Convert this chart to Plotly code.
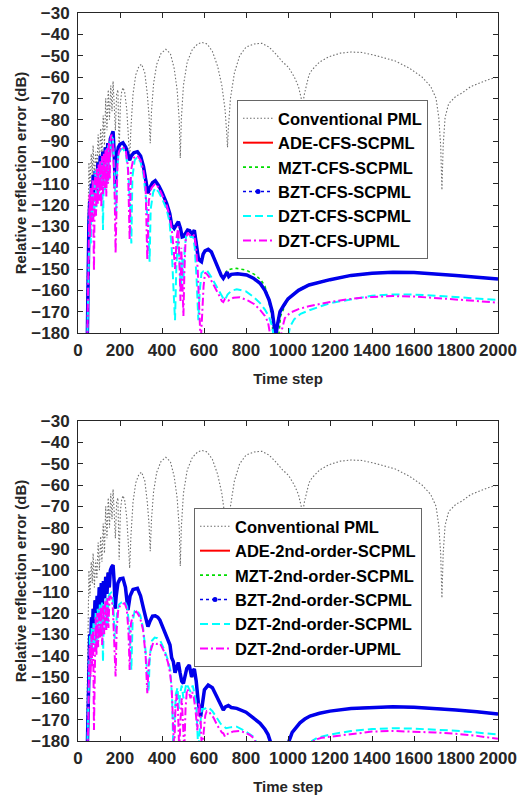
import plotly.graph_objects as go

# ---- data ----
pml_t = [40, 46, 52, 57, 63, 68, 72, 78, 84, 90, 96, 102, 108, 114, 120, 126, 132, 138,
         144, 150, 156, 162, 167, 172, 178, 184, 190, 196, 202, 208, 214, 222, 232, 240,
         246, 252, 262, 275, 290, 303, 318, 330, 338, 344, 350, 360, 375, 395, 418, 440,
         458, 472, 482, 487, 492, 502, 520, 545, 570, 590, 615, 640, 665, 685, 700, 708,
         712, 716, 726, 745, 770, 800, 840, 876, 910, 940, 975, 1003, 1030, 1050, 1062,
         1070, 1078, 1089, 1100, 1114, 1150, 1194, 1250, 1300, 1352, 1420, 1511, 1580,
         1638, 1680, 1705, 1718, 1727, 1733, 1739, 1748, 1765, 1800, 1829, 1870, 1920,
         1960, 2000]
pml_db = [-185, -125, -100, -112, -96, -106, -92, -108, -95, -104, -87, -100, -84, -96,
          -78, -92, -70, -85, -66, -80, -64, -76, -62, -72, -85, -68, -66, -95, -72, -67,
          -65, -67, -75, -88, -99, -84, -68, -59, -55, -54, -58, -68, -78, -91, -76, -63,
          -54, -49, -47, -49, -56, -66, -80, -98, -80, -64, -53, -47, -44.5, -43.8, -44.5,
          -48, -55, -64, -75, -86, -93, -84, -70, -58, -50, -46, -44.5, -44.2, -46, -49,
          -53, -55.5, -60, -64.5, -69, -73, -68, -63, -59, -56.7, -53, -50.5, -48.8, -48.3,
          -48.5, -50, -52.5, -56, -60, -64.5, -70, -79, -92, -113, -92, -79, -72.5, -69,
          -67.5, -64.5, -62.5, -61, -60]

# top panel: CFS
cfs_bzt_t = [44, 48, 52, 56, 60, 64, 68, 72, 76, 82, 88, 95, 100, 106, 112, 118, 124, 130,
             136, 142, 148, 154, 160, 167, 172, 178, 184, 192, 200, 214, 228, 240, 246,
             254, 266, 283, 298, 312, 324, 333, 342, 355, 368, 385, 400, 422, 437, 446,
             458, 470, 478, 488, 496, 502, 512, 522, 532, 542, 554, 563, 573, 580, 588,
             596, 605, 620, 635, 650, 668, 682, 692, 702, 710, 718, 730, 760, 803, 835,
             867, 890, 910, 925, 935, 941, 950, 962, 980, 1000, 1050, 1100, 1200, 1300,
             1400, 1500, 1600, 1700, 1800, 1900, 2000]
cfs_bzt_db = [-185, -150, -128, -118, -128, -110, -122, -106, -118, -104, -115, -100, -110,
              -97, -108, -95, -104, -93, -102, -91, -99, -89, -87, -85.5, -95, -112, -98,
              -93, -91.5, -90.8, -93, -97, -99, -97, -95.5, -95, -97, -102, -108, -114.5,
              -112, -109.5, -108.6, -111, -114, -119.2, -124, -129.4, -131, -129, -127.8,
              -131, -135, -134.8, -133, -131.7, -132, -134, -131.8, -137, -145, -146,
              -146.6, -143, -141.5, -140.8, -142, -145.5, -150, -153, -154.4, -152.5,
              -151.5, -153.5, -152.5, -152.2, -152.8, -154.3, -156.7, -160, -164.5, -170,
              -176, -182, -176, -170, -167, -164, -160, -157.5, -155, -153, -152, -151.5,
              -151.6, -152.2, -153, -153.9, -154.7]
cfs_mzt_t = [710, 730, 756, 800, 840, 870, 890, 905, 914, 922, 930, 955, 965, 990, 1020,
             1060, 1100, 1200, 1300, 1400, 1500, 1600, 1700, 1800, 1900, 2000]
cfs_mzt_db = [-150.5, -150, -149.7, -150.5, -152.5, -155, -158, -163, -167.7, -172, -182,
              -182, -172, -166, -162, -159, -157.3, -155, -153, -152, -151.5, -151.6,
              -152.2, -153, -153.9, -154.7]
cfs_dzt_t = [44, 49, 53, 57, 61, 65, 69, 73, 78, 83, 88, 93, 98, 104, 110, 114, 119, 124,
             129, 134, 139, 144, 149, 154, 160, 166, 172, 177, 181, 186, 193, 204, 214,
             228, 240, 250, 254, 259, 270, 283, 298, 312, 325, 336, 341, 346, 358, 368,
             385, 400, 422, 436, 446, 455, 462, 468, 476, 484, 490, 496, 502, 508, 516,
             526, 536, 548, 556, 565, 573, 580, 588, 598, 613, 630, 650, 670, 684, 693,
             700, 712, 730, 756, 800, 835, 867, 890, 910, 925, 932, 1000, 1010, 1030, 1060,
             1105, 1200, 1300, 1400, 1500, 1600, 1700, 1800, 1900, 2000]
cfs_dzt_db = [-185, -155, -125, -118, -138, -112, -126, -108, -122, -104, -121, -102, -117,
              -100, -112, -98, -131.7, -97, -113, -94, -110, -92, -108, -90, -88, -89, -98,
              -112, -125, -104, -96, -94, -93.5, -96, -105, -125, -138, -107, -99, -97.5,
              -100, -106, -118, -135, -146.6, -122, -114, -112, -114, -117, -122, -128,
              -140, -160, -174, -150, -135, -148, -160, -145, -155, -140, -134, -133, -135,
              -135, -140, -155, -174, -160, -152, -151, -150.5, -153, -156.5, -160, -162.2,
              -164, -164.5, -162, -160.2, -159.5, -160.5, -163, -166, -169, -172.5, -177,
              -182, -182, -177, -173.5, -171, -169.2, -166, -164.2, -162.5, -161.9, -162,
              -162.5, -163.2, -163.8, -164.5]
cfs_upml_t = [44, 48, 52, 55, 58, 62, 66, 70, 73, 76, 79, 82, 86, 90, 94, 98, 102, 106, 111,
              115, 119, 123, 127, 131, 135, 139, 143, 147, 151, 155, 159, 163, 167, 171,
              175, 179, 183, 188, 195, 205, 214, 228, 238, 246, 252, 264, 283, 298, 312,
              322, 330, 337, 350, 368, 385, 400, 422, 436, 446, 455, 462, 470, 478, 484,
              488, 492, 498, 502, 507, 512, 522, 532, 542, 554, 562, 570, 578, 584, 592,
              598, 605, 615, 630, 650, 670, 685, 692, 700, 716, 740, 771, 810, 840, 867,
              890, 905, 915, 922, 960, 972, 985, 1010, 1050, 1105, 1200, 1300, 1400, 1500,
              1600, 1700, 1800, 1900, 2000]
cfs_upml_db = [-185, -160, -130, -115, -135, -112, -128, -108, -125, -151, -120, -105, -125,
               -103, -120, -101, -118, -99, -121, -97, -115, -96, -112, -94, -116, -93, -110,
               -91, -108, -89, -87, -88, -90, -100, -118, -142.7, -115, -100, -95, -93,
               -92.6, -95, -102, -136.4, -104, -98, -96.8, -99, -104, -112, -145.8, -118,
               -112, -110, -112, -115, -120, -125, -131, -140, -150, -135, -130, -150, -165,
               -140, -155, -172, -150, -137, -133, -134, -135, -134, -140, -150, -165, -185,
               -170, -158, -151.7, -152.5, -154.5, -158, -162, -165, -165.5, -164, -164.8,
               -163.5, -163.3, -164.8, -166.5, -169.2, -172, -175, -180, -185, -185, -178,
               -173, -170.5, -168.8, -167.3, -165.5, -164, -163.1, -162.7, -162.9, -163.5,
               -164.2, -165, -165.8]

# bottom panel: 2nd order
so_bzt_t = [44, 48, 52, 56, 60, 64, 68, 72, 76, 81, 86, 91, 96, 101, 106, 111, 116, 121,
            127, 132, 138, 143, 149, 154, 160, 167, 172, 177, 182, 190, 200, 214, 226, 238,
            248, 262, 283, 298, 312, 324, 333, 342, 355, 368, 380, 390, 405, 420, 430, 438,
            446, 454, 462, 470, 478, 486, 494, 502, 510, 518, 530, 541, 548, 554, 563, 573,
            584, 592, 602, 620, 640, 660, 680, 692, 702, 716, 730, 756, 800, 835, 867, 890,
            905, 915, 922, 998, 1005, 1020, 1040, 1057, 1080, 1105, 1150, 1200, 1300, 1400,
            1500, 1600, 1700, 1800, 1900, 2000]
so_bzt_db = [-185, -160, -142, -130, -138, -122, -131, -118, -128, -114, -124, -112, -121,
             -108, -118, -106, -116, -105, -113, -103, -111, -101, -108, -100, -98.5, -97.5,
             -105, -118, -112, -106, -104, -103.7, -108, -118.6, -112, -109, -108.4, -112,
             -118, -123, -126.4, -124, -121.5, -121.3, -122, -123.3, -127, -131, -133, -135,
             -141, -142.8, -148, -146, -143.2, -148, -152, -153, -150, -146, -144.4, -150,
             -147, -146.3, -152, -162.2, -168.6, -162, -156, -153.8, -155, -159, -163.5,
             -165.5, -164, -163.4, -164.3, -164.7, -166.5, -169, -171.7, -174.5, -177, -180,
             -185, -185, -180, -176, -173.5, -171.5, -169.7, -168.3, -167, -166, -164.8,
             -164.2, -164, -164.2, -164.7, -165.5, -166.3, -167.3]
so_dzt_t = [44, 49, 53, 57, 61, 65, 69, 74, 79, 84, 89, 94, 99, 104, 110, 114, 119, 124,
            130, 135, 141, 146, 152, 158, 164, 170, 175, 180, 186, 195, 208, 222, 234, 244,
            254, 260, 270, 280, 296, 310, 322, 336, 342, 352, 365, 378, 392, 410, 428, 440,
            448, 454, 460, 466, 474, 480, 486, 494, 502, 508, 516, 526, 536, 546, 556, 564,
            573, 582, 590, 600, 613, 620, 640, 660, 680, 692, 705, 730, 756, 790, 835, 858,
            1105, 1114, 1140, 1200, 1300, 1400, 1500, 1600, 1700, 1800, 1900, 2000]
so_dzt_db = [-185, -165, -140, -130, -145, -127, -140, -124, -138, -120, -135, -118, -132,
             -116, -128, -115, -142.8, -115, -127, -113, -126, -112, -111, -110.5, -112,
             -120, -132, -128, -120, -116, -115, -114.5, -117, -126, -146.7, -124, -119,
             -118.6, -121, -127, -138, -157, -140, -133, -131.5, -131.8, -133, -137, -142,
             -147, -160, -185, -170, -158, -155, -165, -158, -154, -160, -156, -153, -155,
             -157, -154, -158, -165, -185, -172, -165, -165, -164.5, -164.2, -166, -169,
             -172, -173, -174, -173.5, -173.3, -175, -178, -182, -182, -180, -178.5, -177,
             -175.3, -174.4, -174, -174.2, -174.6, -175.2, -176, -177]
so_upml_t = [44, 48, 52, 56, 60, 64, 68, 72, 76, 80, 84, 88, 92, 96, 100, 105, 110, 115,
             120, 125, 130, 135, 140, 145, 150, 155, 160, 166, 171, 176, 179, 184, 192, 204,
             222, 232, 240, 246, 252, 264, 278, 295, 310, 322, 330, 336, 345, 358, 373, 390,
             410, 428, 438, 446, 452, 458, 464, 470, 476, 482, 488, 494, 500, 506, 512, 519,
             528, 536, 544, 552, 560, 568, 576, 584, 590, 598, 606, 613, 625, 645, 665, 685,
             692, 700, 715, 740, 771, 800, 819, 840, 850, 1110, 1125, 1160, 1200, 1300, 1400,
             1500, 1600, 1700, 1800, 1900, 2000]
so_upml_db = [-185, -175, -150, -135, -150, -130, -145, -127, -174.8, -135, -122, -140, -120,
              -136, -118, -132, -117, -135, -116, -130, -114, -128, -113, -127, -112.5,
              -112.3, -113, -118, -128, -140, -149.8, -128, -118, -116, -115.4, -118, -128,
              -146.7, -125, -120, -119.3, -122, -128, -140, -157.6, -145, -138, -134, -134.5,
              -134.2, -138, -143, -148, -155, -168, -185, -165, -158, -165, -185, -170, -160,
              -172, -185, -165, -155.6, -157, -160, -157, -160, -166, -175, -162, -170, -185,
              -175, -168, -166, -166.5, -169, -173, -176, -176.4, -178, -176.5, -175.5,
              -175.3, -176.2, -177.2, -179, -182, -182, -179.5, -178.5, -178, -176.5, -175.6,
              -175.3, -175.5, -176, -176.6, -177.6, -179]

y_ticks = list(range(-180, -20, 10))
x_ticks = list(range(0, 2001, 200))

top_names = ["Conventional PML", "ADE-CFS-SCPML", "MZT-CFS-SCPML", "BZT-CFS-SCPML",
             "DZT-CFS-SCPML", "DZT-CFS-UPML"]
bot_names = ["Conventional PML", "ADE-2nd-order-SCPML", "MZT-2nd-order-SCPML",
             "BZT-2nd-order-SCPML", "DZT-2nd-order-SCPML", "DZT-2nd-order-UPML"]

# ---- styles ----
FONT = "Arial, Liberation Sans, sans-serif"
pml_line = dict(color="rgb(110,110,110)", width=1.1, dash="1.5px,2px")
red_line = dict(color="red", width=2)
green_line = dict(color="rgb(0,220,0)", width=1.6, dash="dot")
blue_line = dict(color="rgb(0,0,235)", width=3)
cyan_line = dict(color="cyan", width=2, dash="8px,4px")
mag_line = dict(color="magenta", width=2, dash="8px,3px,2px,3px")

fig = go.Figure()


def panel(xa, ya, bzt_t, bzt_db, mzt_t, mzt_db, dzt_t, dzt_db, upml_t, upml_db, bw):
    fig.add_trace(go.Scatter(x=pml_t, y=pml_db, mode="lines", line=pml_line,
                             showlegend=False, xaxis=xa, yaxis=ya))
    fig.add_trace(go.Scatter(x=bzt_t, y=bzt_db, mode="lines", line=red_line,
                             showlegend=False, xaxis=xa, yaxis=ya))
    fig.add_trace(go.Scatter(x=mzt_t, y=mzt_db, mode="lines", line=green_line,
                             showlegend=False, xaxis=xa, yaxis=ya))
    fig.add_trace(go.Scatter(x=bzt_t, y=bzt_db, mode="lines", line=dict(blue_line, width=bw),
                             showlegend=False, xaxis=xa, yaxis=ya))
    fig.add_trace(go.Scatter(x=dzt_t, y=dzt_db, mode="lines", line=cyan_line,
                             showlegend=False, xaxis=xa, yaxis=ya))
    fig.add_trace(go.Scatter(x=upml_t, y=upml_db, mode="lines", line=mag_line,
                             showlegend=False, xaxis=xa, yaxis=ya))


# green follows blue until it separates after ~700 steps
k_top = sum(1 for t in cfs_bzt_t if t < 710)
panel("x", "y", cfs_bzt_t, cfs_bzt_db,
      cfs_bzt_t[:k_top] + cfs_mzt_t, cfs_bzt_db[:k_top] + cfs_mzt_db,
      cfs_dzt_t, cfs_dzt_db, cfs_upml_t, cfs_upml_db, 3.5)
panel("x2", "y2", so_bzt_t, so_bzt_db, so_bzt_t, so_bzt_db,
      so_dzt_t, so_dzt_db, so_upml_t, so_upml_db, 3.5)

# legend entries
legend_styles = [
    dict(mode="lines", line=pml_line),
    dict(mode="lines", line=red_line),
    dict(mode="lines", line=green_line),
    dict(mode="lines+markers", line=dict(color="rgb(0,0,235)", width=1.5, dash="dot"),
         marker=dict(size=5, color="rgb(0,0,235)")),
    dict(mode="lines", line=cyan_line),
    dict(mode="lines", line=mag_line),
]
for names, xa, ya, lg in [(top_names, "x", "y", "legend"), (bot_names, "x2", "y2", "legend2")]:
    for nm, st in zip(names, legend_styles):
        fig.add_trace(go.Scatter(x=[None], y=[None], name=nm, xaxis=xa, yaxis=ya,
                                 legend=lg, **st))

# body margin is removed in the page, so positions are page pixels
W, H = 524, 797


def px_x(p):
    return p / W


def px_y(p):
    return 1 - p / H


axis_common = dict(
    showline=True, linecolor="#262626", linewidth=1, mirror="ticks", automargin=False,
    ticks="inside", ticklen=5, tickcolor="#262626", showgrid=False, zeroline=False,
    ticklabeloverflow="allow",
    tickfont=dict(family=FONT, size=17, color="#262626", weight="bold"),
)
title_font = dict(family=FONT, size=15, color="#262626", weight="bold")
legend_font = dict(family=FONT, size=16.5, color="black", weight="bold")
xdom = [px_x(78), px_x(498)]
fig.update_layout(
    width=W, height=H, margin=dict(l=0, r=0, t=0, b=0, autoexpand=False),
    paper_bgcolor="white", plot_bgcolor="white",
    xaxis=dict(axis_common, domain=xdom, range=[0, 2000], tickvals=x_ticks, anchor="y",
               ticklabelstandoff=2,
               title=dict(text="Time step", standoff=14, font=title_font)),
    yaxis=dict(axis_common, domain=[px_y(333), px_y(13)], range=[-180, -30],
               tickvals=y_ticks, anchor="x", ticklabelstandoff=4,
               title=dict(text="Relative reflection error (dB)", standoff=1, font=title_font)),
    xaxis2=dict(axis_common, domain=xdom, range=[0, 2000], tickvals=x_ticks, anchor="y2",
                ticklabelstandoff=2,
                title=dict(text="Time step", standoff=14, font=title_font)),
    yaxis2=dict(axis_common, domain=[px_y(741), px_y(421)], range=[-180, -30],
                tickvals=y_ticks, anchor="x2", ticklabelstandoff=4,
                title=dict(text="Relative reflection error (dB)", standoff=1, font=title_font)),
    legend=dict(x=px_x(237), y=px_y(100), xanchor="left", yanchor="top",
                bgcolor="white", bordercolor="#666", borderwidth=1, font=legend_font),
    legend2=dict(x=px_x(194), y=px_y(508), xanchor="left", yanchor="top",
                 bgcolor="white", bordercolor="#666", borderwidth=1, font=legend_font),
)

fig.write_html("out.html", config={"displayModeBar": False},
               post_script="document.body.style.margin='0';document.body.style.overflow='hidden';")
